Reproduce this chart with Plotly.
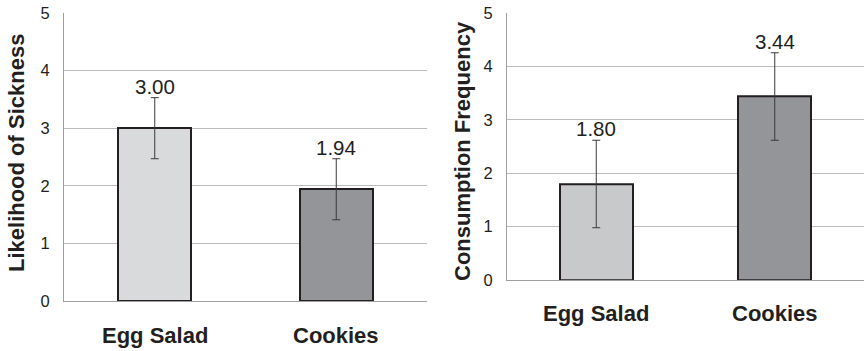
import plotly.graph_objects as go

categories = ["Egg Salad", "Cookies"]
sickness_means = [3.00, 1.94]
sickness_err = [0.53, 0.53]
consumption_means = [1.80, 3.44]
consumption_err = [0.82, 0.82]
y_ticks = [0, 1, 2, 3, 4, 5]
left_colors = ["#d9dadc", "#939598"]
right_colors = ["#c8c9cb", "#939598"]

W, H = 864, 351
FONT = "Liberation Sans, Arial, sans-serif"

def px_x(v):
    return v / W

def px_y(v):
    return (H - v) / H

fig = go.Figure()

fig.add_trace(go.Bar(
    x=categories, y=sickness_means, xaxis="x", yaxis="y",
    width=0.4,
    marker=dict(color=left_colors, line=dict(color="#231f20", width=2)),
    error_y=dict(type="data", array=sickness_err, visible=True,
                 color="#3a3a3a", thickness=1, width=4),
    showlegend=False, hoverinfo="skip",
))
fig.add_trace(go.Bar(
    x=categories, y=consumption_means, xaxis="x2", yaxis="y2",
    width=0.41,
    marker=dict(color=right_colors, line=dict(color="#231f20", width=2)),
    error_y=dict(type="data", array=consumption_err, visible=True,
                 color="#3a3a3a", thickness=1, width=4),
    showlegend=False, hoverinfo="skip",
))

axis_common = dict(
    range=[0, 5], tickvals=y_ticks, ticktext=[str(t) for t in y_ticks],
    showgrid=True, gridcolor="#bcbcbc", gridwidth=1,
    zeroline=False, showline=True, linecolor="#a0a0a0", linewidth=1,
    ticks="", tickfont=dict(family=FONT, size=16.5, color="#231f20"),
    ticklabelstandoff=10, automargin=False,
)
xaxis_common = dict(
    range=[-0.5, 1.5], showticklabels=False, showline=True,
    linecolor="#a0a0a0", showgrid=False, zeroline=False, ticks="",
    automargin=False,
)

fig.update_layout(
    width=W, height=H,
    margin=dict(l=0, r=0, t=0, b=0, pad=0, autoexpand=False),
    paper_bgcolor="white", plot_bgcolor="white",
    bargap=0,
    xaxis=dict(domain=[px_x(64), px_x(427)], anchor="y", **xaxis_common),
    yaxis=dict(domain=[px_y(301), px_y(13)], anchor="x", **axis_common),
    xaxis2=dict(domain=[px_x(507), 1.0], anchor="y2", **xaxis_common),
    yaxis2=dict(domain=[px_y(280), px_y(13.3)], anchor="x2", **axis_common),
)

annotations = []
for i, c in enumerate(categories):
    annotations.append(dict(
        x=c, y=sickness_means[i] + sickness_err[i], xref="x", yref="y",
        text=f"{sickness_means[i]:.2f}", showarrow=False, yanchor="bottom",
        font=dict(family=FONT, size=20.5, color="#231f20"), yshift=-2,
    ))
    annotations.append(dict(
        x=c, y=consumption_means[i] + consumption_err[i], xref="x2", yref="y2",
        text=f"{consumption_means[i]:.2f}", showarrow=False, yanchor="bottom",
        font=dict(family=FONT, size=20.5, color="#231f20"), yshift=-2,
    ))
    annotations.append(dict(
        x=c, y=px_y(335), xref="x", yref="paper", text=c, showarrow=False,
        yanchor="middle", font=dict(family=FONT, size=22, color="#231f20", weight="bold"),
    ))
    annotations.append(dict(
        x=c, y=px_y(313), xref="x2", yref="paper", text=c, showarrow=False,
        yanchor="middle", font=dict(family=FONT, size=22, color="#231f20", weight="bold"),
    ))

annotations.append(dict(
    x=px_x(16), y=px_y(153), xref="paper", yref="paper",
    text="Likelihood of Sickness", textangle=-90, showarrow=False,
    xanchor="center", yanchor="middle",
    font=dict(family=FONT, size=22, color="#231f20", weight="bold"),
))
annotations.append(dict(
    x=px_x(462), y=px_y(151), xref="paper", yref="paper",
    text="Consumption Frequency", textangle=-90, showarrow=False,
    xanchor="center", yanchor="middle",
    font=dict(family=FONT, size=22, color="#231f20", weight="bold"),
))
fig.update_layout(annotations=annotations)

fig.write_html(
    "out.html",
    config={"displayModeBar": False},
    post_script="document.body.style.margin='0';document.body.style.overflow='hidden';",
)
